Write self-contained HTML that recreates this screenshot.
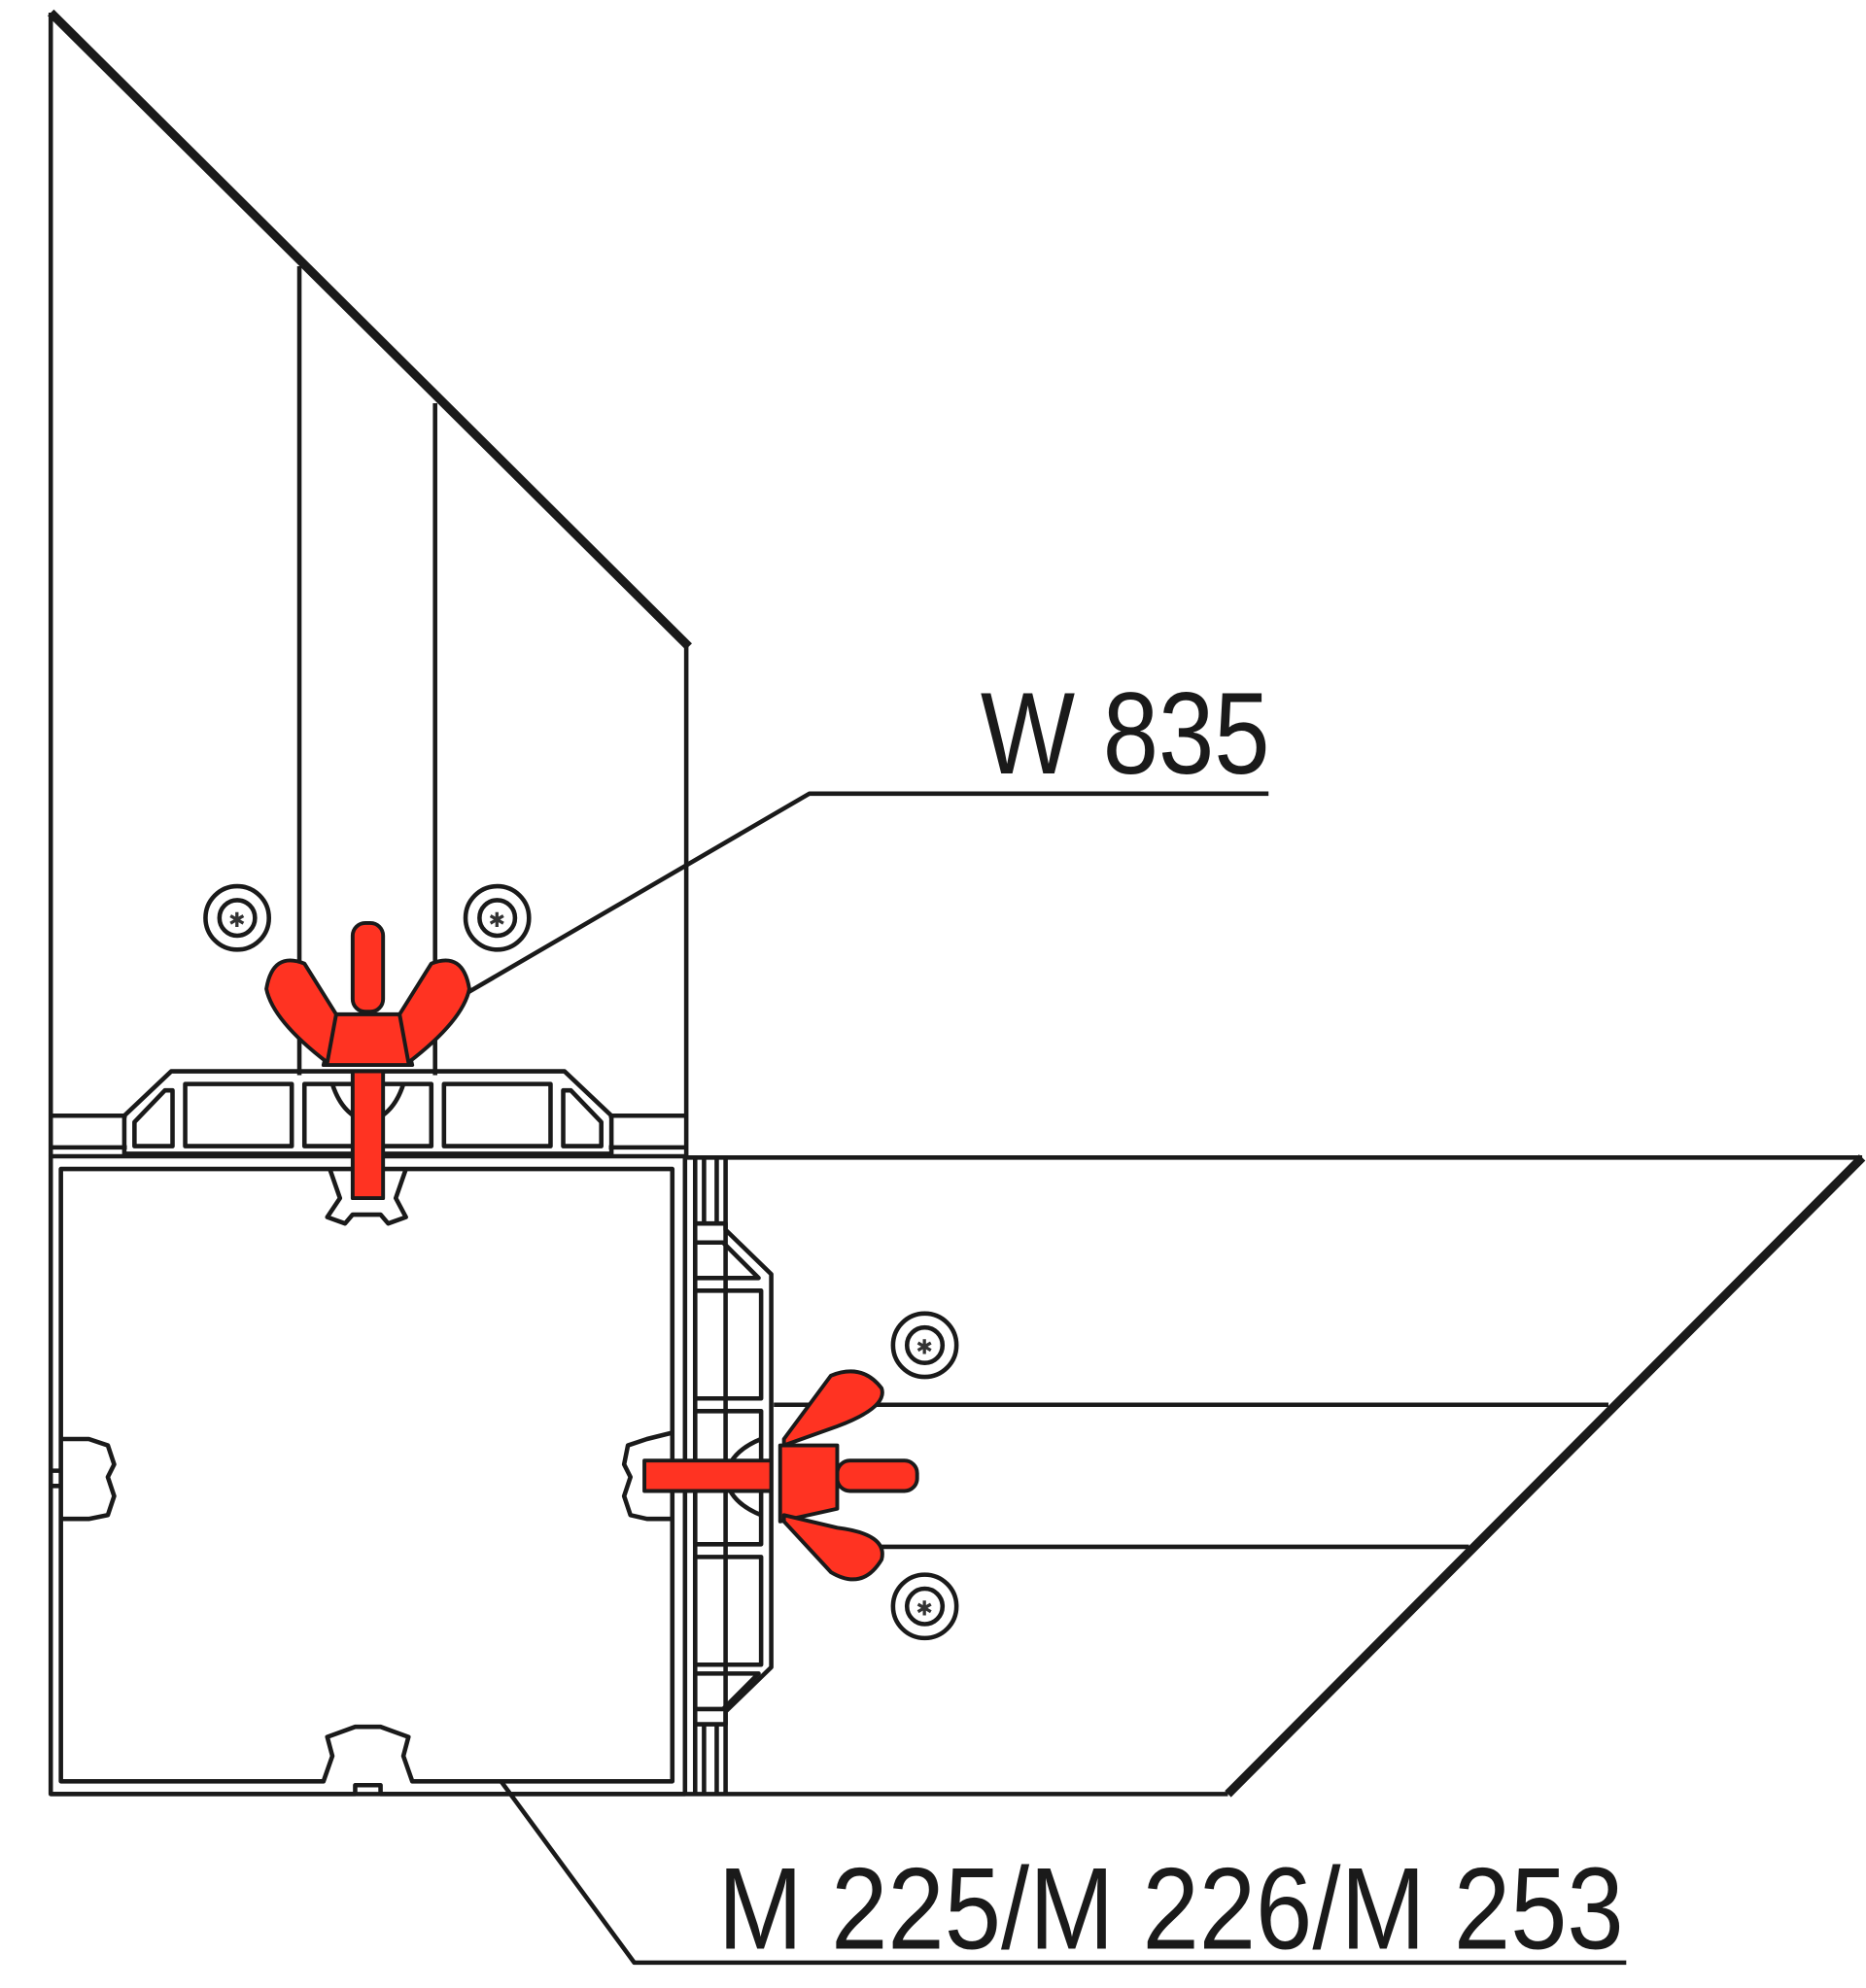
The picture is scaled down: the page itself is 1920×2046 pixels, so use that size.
<!DOCTYPE html>
<html><head><meta charset="utf-8"><style>
html,body{margin:0;padding:0;background:#fff}
svg{display:block}
</style></head><body>
<svg width="1920" height="2046" viewBox="0 0 1471 1568" preserveAspectRatio="none" xmlns="http://www.w3.org/2000/svg">
<g fill="none" stroke="#1a1a1a" stroke-width="3.5" stroke-linejoin="round">
<!-- top glass -->
<line x1="40" y1="10" x2="40" y2="912"/>
<line x1="40" y1="10" x2="543" y2="510" stroke-width="7"/>
<line x1="541" y1="510" x2="541" y2="912"/>
<line x1="236" y1="210" x2="236" y2="848"/>
<line x1="343" y1="318" x2="343" y2="848"/>
<!-- top frame profile -->
<line x1="40" y1="880" x2="100" y2="880"/>
<line x1="40" y1="905" x2="100" y2="905"/>
<line x1="480" y1="880" x2="541" y2="880"/>
<line x1="480" y1="905" x2="541" y2="905"/>
<path d="M98,880 L135,845 L445,845 L482,880 L482,910 L98,910 Z"/>
<path d="M106,885 L130,860 L136,860 L136,904 L106,904 Z"/>
<path d="M474,885 L450,860 L444,860 L444,904 L474,904 Z"/>
<rect x="146" y="855" width="84" height="49"/>
<rect x="240" y="855" width="100" height="49"/>
<rect x="350" y="855" width="84" height="49"/>
<path d="M262,855 Q270,880 290,885 Q310,880 318,855"/>
<!-- square profile -->
<path d="M40,912 L540,912 L540,1415 L300,1415 L300,1408 L280,1408 L280,1415 L40,1415 Z"/>
<path d="M48,922 L530,922 L530,1405 L325,1405 L318,1385 L322,1370 L300,1362 L280,1362 L258,1370 L262,1385 L255,1405 L48,1405 Z"/>
<path d="M260,922 L268,945 L258,960 L272,965 L278,958 L300,958 L306,965 L320,960 L312,945 L320,922"/>
<path d="M48,1135 L70,1135 L85,1140 L90,1155 L85,1165 L90,1180 L85,1195 L70,1198 L48,1198"/>
<path d="M40,1160 L48,1160 M40,1172 L48,1172"/>
<path d="M530,1130 L510,1135 L495,1140 L492,1155 L497,1165 L492,1180 L497,1195 L510,1198 L530,1198"/>
<!-- right vertical profile -->
<line x1="548" y1="912" x2="548" y2="1415"/>
<line x1="572" y1="912" x2="572" y2="1415"/>
<path d="M548,965 L572,965 L572,970 L608,1005 L608,1315 L572,1350 L572,1360 L548,1360"/>
<path d="M548,980 L570,980 L598,1008 L548,1008 Z"/>
<rect x="548" y="1018" width="52" height="85"/>
<rect x="548" y="1113" width="52" height="105"/>
<rect x="548" y="1228" width="52" height="85"/>
<path d="M548,1320 L598,1320 L570,1348 L548,1348 Z"/>
<line x1="555" y1="1360" x2="555" y2="1415"/>
<line x1="565" y1="1360" x2="565" y2="1415"/>
<line x1="555" y1="912" x2="555" y2="965"/>
<line x1="565" y1="912" x2="565" y2="965"/>
<path d="M600,1135 Q575,1145 572,1165 Q575,1185 600,1195"/>
<!-- right glass -->
<line x1="540" y1="913" x2="1468" y2="913"/>
<line x1="1468" y1="913" x2="968" y2="1415" stroke-width="7"/>
<line x1="40" y1="1415" x2="968" y2="1415"/>
<line x1="610" y1="1108" x2="1268" y2="1108"/>
<line x1="690" y1="1220" x2="1158" y2="1220"/>
<!-- leaders -->
<polyline points="365,785 638,626 1000,626"/>
<polyline points="395,1405 500,1548 1282,1548"/>
<!-- screws -->
<circle cx="187" cy="724" r="25"/><circle cx="187" cy="724" r="14"/>
<circle cx="392" cy="724" r="25"/><circle cx="392" cy="724" r="14"/>
<circle cx="729" cy="1061" r="25"/><circle cx="729" cy="1061" r="14"/>
<circle cx="729" cy="1267" r="25"/><circle cx="729" cy="1267" r="14"/>
</g>
<g fill="#333"><text x="180" y="731" font-size="16">✱</text><text x="385" y="731" font-size="16">✱</text><text x="722" y="1068" font-size="16">✱</text><text x="722" y="1274" font-size="16">✱</text></g>
<!-- red wing nuts -->
<g fill="#ff3322" stroke="#1a1a1a" stroke-width="3" stroke-linejoin="round">
<rect x="278" y="728" width="24" height="70" rx="10"/>
<rect x="278" y="845" width="24" height="100"/>
<path d="M265,800 L315,800 L325,840 L255,840 Z"/>
<path d="M265,800 L240,760 Q215,750 210,780 Q215,805 258,838 Z"/>
<path d="M315,800 L340,760 Q365,750 370,780 Q365,805 322,838 Z"/>
<rect x="508" y="1152" width="100" height="24"/>
<rect x="660" y="1152" width="63" height="24" rx="10"/>
<path d="M615,1140 L660,1140 L660,1190 L615,1200 Z"/>
<path d="M618,1140 L660,1125 Q700,1110 695,1095 Q680,1075 655,1085 L618,1135 Z"/>
<path d="M618,1195 L660,1205 Q700,1210 695,1230 Q680,1255 655,1240 L618,1200 Z"/>
</g>
<g font-family="'Liberation Sans Narrow','Liberation Sans',sans-serif" fill="#1a1a1a">
<text x="773" y="610" font-size="92" textLength="228" lengthAdjust="spacingAndGlyphs">W 835</text>
<text x="566" y="1537" font-size="92" textLength="714" lengthAdjust="spacingAndGlyphs">M 225/M 226/M 253</text>
</g>
</svg>
</body></html>
